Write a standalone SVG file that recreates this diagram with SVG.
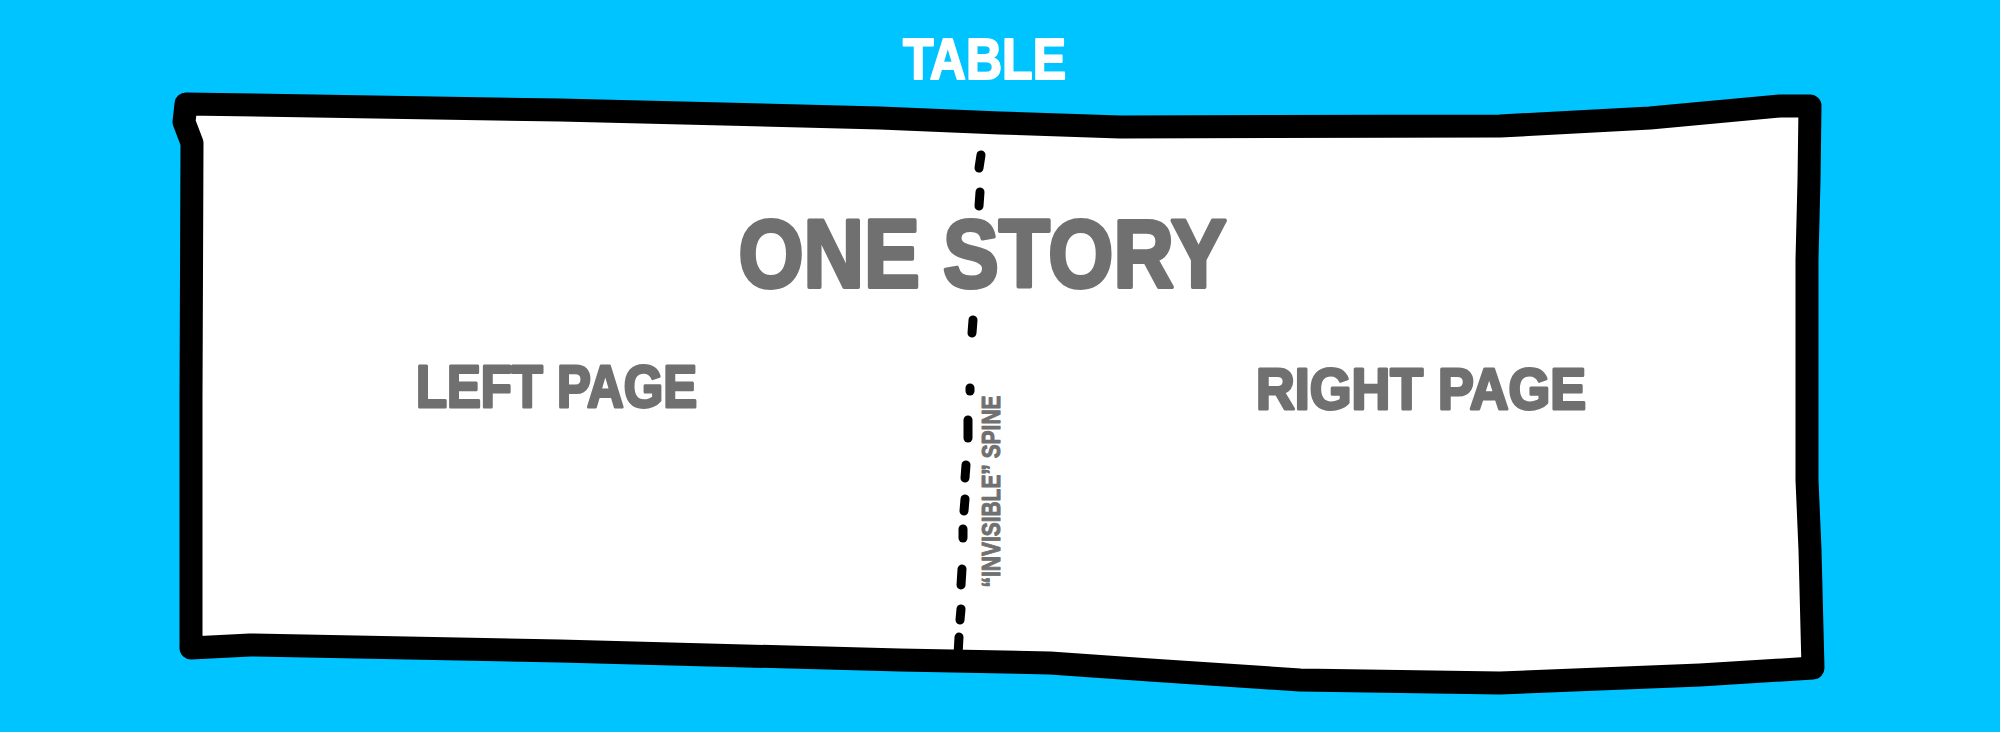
<svg xmlns="http://www.w3.org/2000/svg" width="2000" height="732" viewBox="0 0 2000 732">
  <style>
    .lbl { font-family: "Liberation Sans", Arial, sans-serif; font-weight: bold; fill: #707070; stroke: #707070; stroke-linejoin: round; text-anchor: middle; }
    .title { font-family: "Liberation Sans", Arial, sans-serif; font-weight: bold; fill: #ffffff; stroke: #ffffff; stroke-width: 2; stroke-linejoin: round; text-anchor: middle; }
    .dash { stroke: #000; stroke-width: 9; stroke-linecap: round; fill: none; }
  </style>
  <rect x="0" y="0" width="2000" height="732" fill="#00C4FF"/>
  <g id="table-label">
    <text class="title" x="984.5" y="79" font-size="57" textLength="163" lengthAdjust="spacingAndGlyphs">TABLE</text>
  </g>
  <g id="table">
    <path d="M 192,143 L 184,122 L 186,104 L 560,110 L 880,118 L 1000,123 L 1120,127 L 1500,126 L 1650,118 L 1780,106 L 1810,106 L 1809,180 L 1807,260 L 1807,480 L 1810,550 L 1813,668 L 1700,675 L 1500,683 L 1300,680 L 1150,670 L 1050,663 L 900,660 L 560,651 L 250,645 L 191,648 L 191,400 Z" fill="#ffffff" stroke="#000000" stroke-width="23" stroke-linejoin="round"/>
  </g>
  <g id="connectors">
    <g id="spine">
      <line class="dash" x1="981" y1="155" x2="979" y2="168"/>
      <line class="dash" x1="980" y1="192" x2="979" y2="206"/>
      <line class="dash" x1="973" y1="320" x2="972" y2="333"/>
      <line class="dash" x1="970" y1="388" x2="970" y2="391"/>
      <line class="dash" x1="968" y1="420" x2="968" y2="438"/>
      <line class="dash" x1="966" y1="465" x2="965" y2="478"/>
      <line class="dash" x1="965" y1="499" x2="964" y2="511"/>
      <line class="dash" x1="963" y1="529" x2="963" y2="538"/>
      <line class="dash" x1="962" y1="569" x2="961" y2="585"/>
      <line class="dash" x1="961" y1="609" x2="960" y2="620"/>
      <line class="dash" x1="959" y1="637" x2="958" y2="655"/>
    </g>
  </g>
  <g id="one-story">
    <text class="lbl" x="982.5" y="287" font-size="96" stroke-width="4" textLength="488" lengthAdjust="spacingAndGlyphs">ONE STORY</text>
  </g>
  <g id="left-page">
    <text class="lbl" x="556.5" y="407" font-size="59" stroke-width="3" textLength="281" lengthAdjust="spacingAndGlyphs">LEFT PAGE</text>
  </g>
  <g id="right-page">
    <text class="lbl" x="1421" y="409" font-size="58" stroke-width="3" textLength="330" lengthAdjust="spacingAndGlyphs">RIGHT PAGE</text>
  </g>
  <g id="spine-label">
    <text class="lbl" transform="translate(999.5,491.5) rotate(-90)" x="0" y="0" font-size="25" stroke-width="1" textLength="192" lengthAdjust="spacingAndGlyphs">“INVISIBLE” SPINE</text>
  </g>
</svg>
